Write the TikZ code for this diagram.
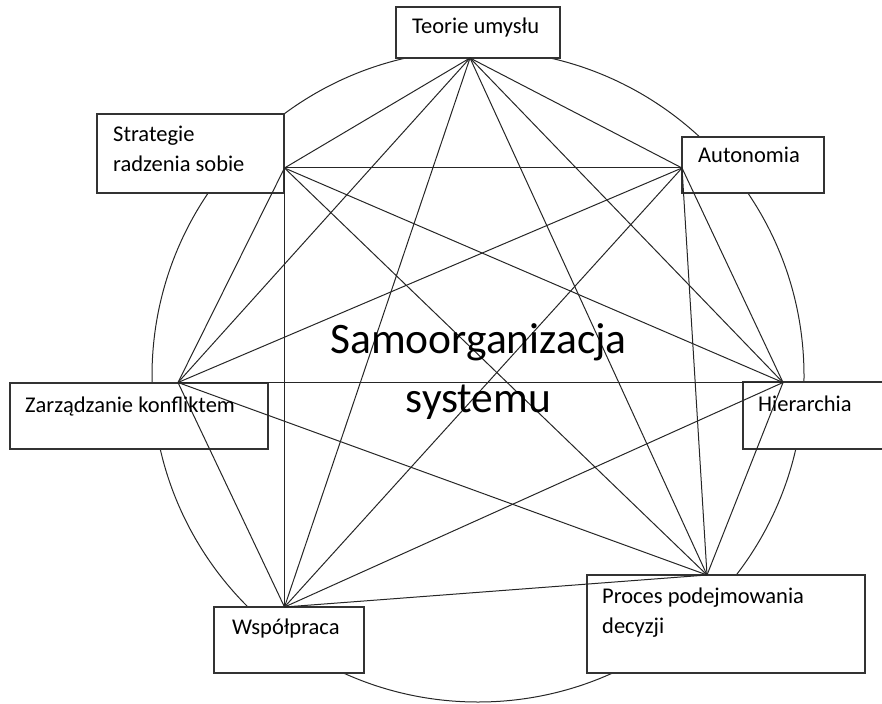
\documentclass[tikz,border=0pt]{standalone}
\usepackage{fontspec}
\setmainfont{Carlito}
\begin{document}
\begin{tikzpicture}[x=1pt,y=-1pt,
  ring/.style={draw=black!85, line width=1pt, circle, inner sep=0pt, minimum size=652pt},
  box/.style={draw=black!80, line width=1.4pt, fill=white, inner sep=0pt, outer sep=0pt},
  edge/.style={draw=black!85, line width=1pt},
  lbl/.style={anchor=base west, inner sep=0pt, text=black, font=\fontsize{22.5}{30}\selectfont},
  big/.style={anchor=base, inner sep=0pt, text=black, font=\fontsize{43.5}{50}\selectfont}]
\useasboundingbox (0,0) rectangle (882,703);
% circle
\node[ring] (circ) at (478,376) {};
% boxes
\node[box, minimum width=164pt, minimum height=51pt] (Tbox) at (478,32.5) {};
\node[box, minimum width=187pt, minimum height=79pt] (Sbox) at (190.5,153.5) {};
\node[box, minimum width=142pt, minimum height=56pt] (Abox) at (753,165) {};
\node[box, minimum width=258pt, minimum height=66pt] (Zbox) at (139,416) {};
\node[box, minimum width=141pt, minimum height=67pt] (Hbox) at (813.5,415.5) {};
\node[box, minimum width=150pt, minimum height=66pt] (Wbox) at (289,640) {};
\node[box, minimum width=278pt, minimum height=98pt] (Pbox) at (726,624) {};
% vertices
\coordinate (T) at (470,58);
\coordinate (S) at (284.5,168);
\coordinate (A) at (682,168);
\coordinate (H) at (783,382.5);
\coordinate (P) at (707,575);
\coordinate (W) at (284.5,607);
\coordinate (Z) at (178,382.5);
% edges
\foreach \a/\b in {T/S,T/A,T/H,T/P,T/W,T/Z,
                   S/A,S/H,S/P,S/W,S/Z,
                   A/H,A/P,A/W,A/Z,
                   H/P,H/W,H/Z,
                   P/W,P/Z,
                   W/Z}
  \draw[edge] (\a) -- (\b);
% labels
\node[lbl] (tT) at (412,34) {Teorie umysłu};
\node[lbl] (tS1) at (113,142) {Strategie};
\node[lbl] (tS2) at (113,172) {radzenia sobie};
\node[lbl] (tA) at (698,163) {Autonomia};
\node[lbl] (tZ) at (25,412) {Zarządzanie konfliktem};
\node[lbl] (tH) at (758,411) {Hierarchia};
\node[lbl] (tW) at (232,634) {Współpraca};
\node[lbl] (tP1) at (602,603) {Proces podejmowania};
\node[lbl] (tP2) at (602,633) {decyzji};
\node[big] (c1) at (478.5,353) {Samoorganizacja};
\node[big] (c2) at (478.5,412) {systemu};
\end{tikzpicture}
\end{document}
